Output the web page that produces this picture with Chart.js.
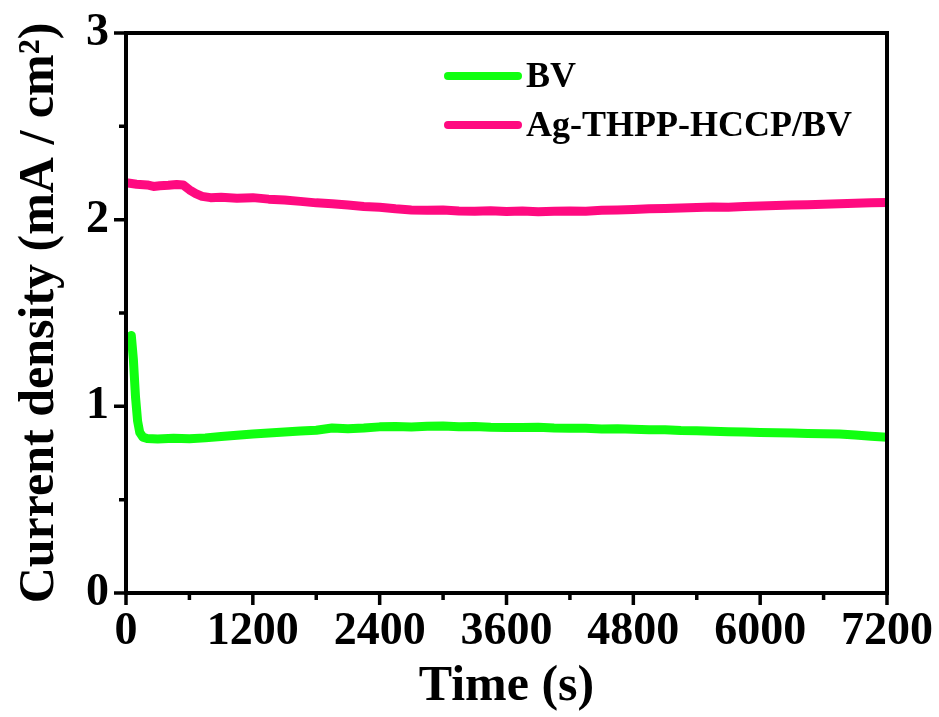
<!DOCTYPE html>
<html>
<head>
<meta charset="utf-8">
<title>Current density vs time</title>
<script src="https://cdn.jsdelivr.net/npm/chart.js"></script>
<style>
  body { margin: 0; background: #fff; }
  canvas { display: block; }
</style>
</head>
<body>
<canvas id="itCurve" width="939" height="717"></canvas>
<script>
'use strict';

const green = "#10ff10";
const pink = "#ff0a80";
const serif = "'Liberation Serif', 'Times New Roman', serif";

// BV film
const timeBV = [50, 70, 90, 110, 130, 160, 200, 300, 450, 600, 750, 900, 1050, 1200,
    1350, 1500, 1650, 1800, 1950, 2100, 2250, 2400, 2550, 2700, 2850, 3000, 3150,
    3300, 3450, 3600, 3750, 3900, 4050, 4200, 4350, 4500, 4650, 4800, 4950, 5100,
    5250, 5400, 5550, 5700, 5850, 6000, 6150, 6300, 6450, 6600, 6750, 6900, 7050, 7200];
const currentBV = [1.38, 1.25, 1.05, 0.92, 0.86, 0.835, 0.828, 0.825, 0.829, 0.826,
    0.831, 0.838, 0.845, 0.852, 0.857, 0.862, 0.868, 0.872, 0.884, 0.880, 0.884,
    0.890, 0.892, 0.889, 0.893, 0.894, 0.890, 0.892, 0.888, 0.887, 0.886, 0.888,
    0.884, 0.882, 0.883, 0.879, 0.880, 0.877, 0.874, 0.875, 0.871, 0.869, 0.866,
    0.864, 0.862, 0.860, 0.858, 0.857, 0.855, 0.853, 0.852, 0.846, 0.840, 0.835];

// Ag-THPP-HCCP/BV film
const timeAg = [20, 100, 200, 260, 320, 400, 480, 540, 600, 660, 720, 800, 900, 1050,
    1200, 1350, 1500, 1650, 1800, 1950, 2100, 2250, 2400, 2550, 2700, 2850, 3000,
    3150, 3300, 3450, 3600, 3750, 3900, 4050, 4200, 4350, 4500, 4650, 4800, 4950,
    5100, 5250, 5400, 5550, 5700, 5850, 6000, 6150, 6300, 6450, 6600, 6750, 6900,
    7050, 7200];
const currentAg = [2.196, 2.190, 2.186, 2.178, 2.182, 2.184, 2.188, 2.186, 2.160,
    2.140, 2.125, 2.118, 2.120, 2.115, 2.118, 2.110, 2.105, 2.098, 2.090, 2.085,
    2.078, 2.070, 2.066, 2.058, 2.052, 2.050, 2.052, 2.047, 2.045, 2.048, 2.044,
    2.046, 2.043, 2.045, 2.047, 2.045, 2.050, 2.052, 2.055, 2.058, 2.060, 2.062,
    2.065, 2.068, 2.066, 2.070, 2.073, 2.076, 2.078, 2.080, 2.083, 2.085, 2.088,
    2.090, 2.092];

const seriesNames = ["BV", "Ag-THPP-HCCP/BV"];
const xTickLabels = [0, 1200, 2400, 3600, 4800, 6000, 7200];
const yTickLabels = [0, 1, 2, 3];

function toPoints(ts, vs){
    return ts.map((t, i) => ({x: t, y: vs[i]}));
}

// box around the plot plus major/minor ticks pointing outwards
const frameTicks = {
    id: 'frameTicks',
    afterDraw(chart){
        const ctx = chart.ctx;
        const a = chart.chartArea;
        const sx = chart.scales.x, sy = chart.scales.y;
        ctx.save();
        ctx.strokeStyle = "#000";
        ctx.lineWidth = 4;
        ctx.strokeRect(a.left, a.top, a.right - a.left, a.bottom - a.top);

        ctx.lineWidth = 3.5;
        ctx.beginPath();
        sx.ticks.forEach(t => {
            var px = sx.getPixelForValue(t.value);
            var len = xTickLabels.includes(t.value) ? 12 : 7;
            ctx.moveTo(px, a.bottom);
            ctx.lineTo(px, a.bottom + len);
        });
        sy.ticks.forEach(t => {
            var py = sy.getPixelForValue(t.value);
            var len = yTickLabels.includes(t.value) ? 12 : 7;
            ctx.moveTo(a.left, py);
            ctx.lineTo(a.left - len, py);
        });
        ctx.stroke();
        ctx.restore();
    }
};

// legend sits inside the plot near the top
const insideLegend = {
    id: 'insideLegend',
    afterDraw(chart){
        const ctx = chart.ctx;
        const a = chart.chartArea;
        ctx.save();
        ctx.font = "bold 36px " + serif;
        ctx.textBaseline = "middle";
        ctx.fillStyle = "#000";
        ctx.lineCap = "round";
        ctx.lineWidth = 8;
        chart.data.datasets.forEach((ds, i) => {
            var y = a.top + 43 + i * 49;
            var x0 = a.left + 322;
            ctx.strokeStyle = ds.borderColor;
            ctx.beginPath();
            ctx.moveTo(x0, y);
            ctx.lineTo(x0 + 70, y);
            ctx.stroke();
            ctx.fillText(ds.label, x0 + 78, y + 2);
        });
        ctx.restore();
    }
};

const ctx = document.getElementById('itCurve').getContext('2d');
const itChart = new Chart(ctx, {
    type: 'line',
    data: {
        datasets: [{
            label: seriesNames[0],
            data: toPoints(timeBV, currentBV),
            borderColor: green,
            borderWidth: 9
        }, {
            label: seriesNames[1],
            data: toPoints(timeAg, currentAg),
            borderColor: pink,
            borderWidth: 9
        }]
    },
    options: {
        responsive: false,
        animation: false,
        elements: {
            point: { radius: 0 },
            line: { tension: 0, borderJoinStyle: 'round', borderCapStyle: 'round' }
        },
        layout: { padding: { left: 10, top: 33, right: 52, bottom: 0 } },
        plugins: {
            legend: { display: false },
            tooltip: { enabled: false }
        },
        scales: {
            x: {
                type: 'linear',
                min: 0,
                max: 7200,
                grid: { display: false, drawTicks: false },
                border: { display: false },
                ticks: {
                    stepSize: 600,
                    autoSkip: false,
                    maxRotation: 0,
                    padding: 12,
                    color: "#000",
                    font: { family: serif, size: 46, weight: 'bold' },
                    callback: v => xTickLabels.includes(v) ? String(v) : ''
                },
                title: {
                    display: true,
                    text: "Time (s)",
                    color: "#000",
                    padding: 0,
                    font: { family: serif, size: 50, weight: 'bold' }
                },
                afterFit: s => {
                    s.height = 124;
                    s.paddingLeft = 0;
                    s.paddingRight = 0;
                }
            },
            y: {
                min: 0,
                max: 3,
                grid: { display: false, drawTicks: false },
                border: { display: false },
                ticks: {
                    stepSize: 0.5,
                    autoSkip: false,
                    padding: 17,
                    color: "#000",
                    font: { family: serif, size: 46, weight: 'bold' },
                    callback: v => yTickLabels.includes(v) ? String(v) : ''
                },
                title: {
                    display: true,
                    text: "Current density (mA / cm²)",
                    color: "#000",
                    padding: 0,
                    font: { family: serif, size: 50, weight: 'bold' }
                },
                afterFit: s => {
                    s.width = 116;
                    s.paddingTop = 0;
                    s.paddingBottom = 0;
                }
            }
        }
    },
    plugins: [frameTicks, insideLegend]
});
</script>
</body>
</html>
